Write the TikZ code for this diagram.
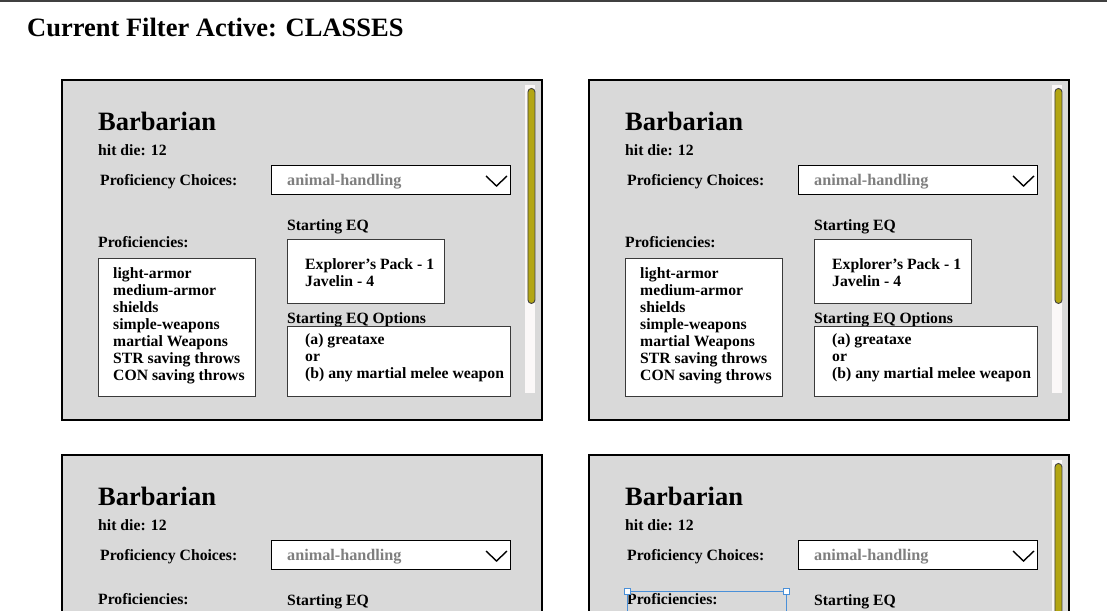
\documentclass[tikz,border=0pt]{standalone}
\usepackage{fontspec}
\setmainfont{Liberation Serif}
\definecolor{panelgray}{HTML}{D9D9D9}
\definecolor{boxline}{HTML}{3A3A3A}
\definecolor{hintgray}{HTML}{7F7F7F}
\definecolor{thumbolive}{HTML}{B3A614}
\definecolor{trackwhite}{HTML}{FBF8F8}
\definecolor{selblue}{HTML}{4A90D9}
\tikzset{
  panelbox/.style={draw=black, line width=1.6pt, fill=panelgray, anchor=north west, inner sep=0pt, minimum width=480pt, minimum height=340pt},
  whitebox/.style={draw=boxline, line width=0.9pt, fill=white, anchor=north west, inner sep=0pt},
  dropbox/.style={draw=black, line width=1.2pt, fill=white, anchor=north west, inner sep=0pt, minimum width=239pt, minimum height=29pt},
  lbl/.style={anchor=base west, inner sep=0pt, font=\bfseries\fontsize{15.7}{17}\selectfont},
  hint/.style={anchor=base west, inner sep=0pt, text=hintgray, font=\bfseries\fontsize{16.2}{17}\selectfont},
  heading/.style={anchor=base west, inner sep=0pt, font=\bfseries\fontsize{26.5}{28}\selectfont},
  listtxt/.style={anchor=north west, inner sep=0pt, align=left, font=\bfseries\fontsize{15.7}{17}\selectfont},
  track/.style={fill=trackwhite, draw=none, anchor=north west, inner sep=0pt, minimum width=10pt},
  thumb/.style={fill=thumbolive, draw=black!75, line width=0.9pt, rounded corners=3.5pt, anchor=north west, inner sep=0pt, minimum width=7pt},
  chevron/.style={draw=black, line width=1.4pt},
  selbox/.style={draw=selblue, line width=1pt},
  handle/.style={draw=selblue, fill=white, line width=0.9pt, minimum size=6pt, inner sep=0pt}
}
% #1 x, #2 y, #3 prefix
\newcommand{\cardheader}[3]{%
  \node[panelbox] (#3frame) at (#1,#2) {};
  \begin{scope}[shift={(#1,#2)}]
    \node[heading] (#3title) at (37,51) {Barbarian};
    \node[lbl] (#3hit) at (37,76) {hit die: 12};
    \node[lbl] (#3pc) at (39,106) {Proficiency Choices:};
    \node[dropbox] (#3drop) at (210,86) {};
    \node[hint] (#3dropval) at (226,106) {animal-handling};
    \coordinate (#3chA) at (425,97);
    \coordinate (#3chB) at (435.5,107);
    \coordinate (#3chC) at (446,97);
    \draw[chevron] (#3chA) -- (#3chB) -- (#3chC);
    \node[lbl] (#3seq) at (226,151) {Starting EQ};
  \end{scope}}
\newcommand{\cardbody}[3]{%
  \begin{scope}[shift={(#1,#2)}]
    \node[lbl] (#3prof) at (37,168) {Proficiencies:};
    \node[whitebox, minimum width=157pt, minimum height=138pt] (#3profbox) at (37,179) {};
    \node[listtxt] (#3proflist) at (52,188) {light-armor\\medium-armor\\shields\\simple-weapons\\martial Weapons\\STR saving throws\\CON saving throws};
    \node[whitebox, minimum width=157pt, minimum height=64pt] (#3eqbox) at (226,160) {};
    \node[listtxt] (#3eqlist) at (244,179) {Explorer's Pack - 1\\Javelin - 4};
    \node[lbl] (#3opt) at (226,244) {Starting EQ Options};
    \node[whitebox, minimum width=223pt, minimum height=70pt] (#3optbox) at (226,247) {};
    \node[listtxt] (#3optlist) at (244,254) {(a) greataxe\\or\\(b) any martial melee weapon};
  \end{scope}}
\newcommand{\cardscroll}[4]{% #4 thumb height
  \begin{scope}[shift={(#1,#2)}]
    \node[track, minimum height=308pt] (#3track) at (464,6) {};
    \node[thumb, minimum height=#4] (#3thumb) at (466.5,9) {};
  \end{scope}}
\begin{document}
\begin{tikzpicture}[x=1pt,y=-1pt]
\useasboundingbox (0,0) rectangle (1107,610);
\clip (0,0) rectangle (1107,610);
\fill[white] (0,0) rectangle (1107,610);
\coordinate (topL) at (0,1);
\coordinate (topR) at (1107,1);
\draw[black!75, line width=2pt] (topL) -- (topR);
\node[anchor=base west, inner sep=0pt, font=\bfseries\fontsize{26.5}{28}\selectfont] (filter) at (27,37) {Current Filter Active: CLASSES};
% top left
\cardheader{61}{79}{a}
\cardbody{61}{79}{a}
\cardscroll{61}{79}{a}{215pt}
% top right
\cardheader{588}{79}{b}
\cardbody{588}{79}{b}
\cardscroll{588}{79}{b}{215pt}
% bottom left
\cardheader{61}{454}{c}
\node[lbl] (cprof) at (98,604) {Proficiencies:};
% bottom right
\cardheader{588}{454}{d}
\cardscroll{588}{454}{d}{215pt}
\node[lbl] (dprof) at (627,604) {Proficiencies:};
\coordinate (dselA) at (627,591);
\coordinate (dselB) at (786,591);
\coordinate (dselC) at (786,620);
\coordinate (dselD) at (627,620);
\draw[selbox] (dselD) -- (dselA) -- (dselB) -- (dselC);
\node[handle] (dhA) at (dselA) {};
\node[handle] (dhB) at (dselB) {};
\end{tikzpicture}
\end{document}
